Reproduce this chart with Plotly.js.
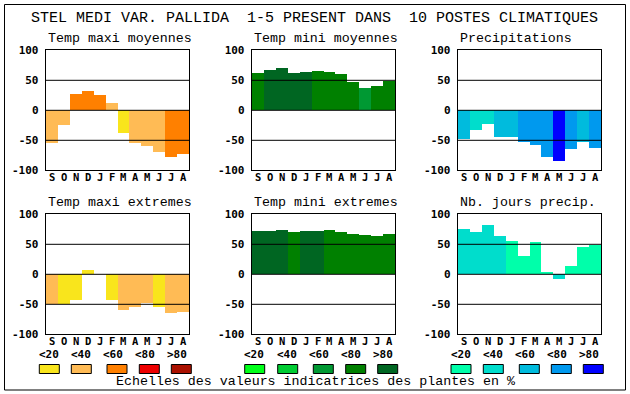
<!DOCTYPE html>
<html><head><meta charset="utf-8">
<script src="https://cdn.plot.ly/plotly-3.0.1.min.js"></script>
<style>html,body{margin:0;padding:0;background:#fff}#chart{width:630px;height:394px}</style>
</head><body><div id="chart"></div>
<script>
// ---- data ----
const months = ['S','O','N','D','J','F','M','A','M','J','J','A'];
const levelLabels = ['<20','<40','<60','<80','>80'];
const mainTitle = 'STEL MEDI VAR. PALLIDA  1-5 PRESENT DANS  10 POSTES CLIMATIQUES';
const footer = 'Echelles des valeurs indicatrices des plantes en %';
const panelTitles = ['Temp maxi moyennes','Temp mini moyennes','Precipitations',
                     'Temp maxi extremes','Temp mini extremes','Nb. jours precip.'];

const tmaxMoy      = [-55,-24,27,32,25,12,-37,-55,-60,-70,-77,-72];
const tmaxMoyLevel = [1,1,2,2,2,1,0,1,1,1,2,2];
const tminMoy      = [62,67,70,62,64,65,64,60,47,37,40,49];
const tminMoyLevel = [3,4,4,4,4,3,3,3,3,2,3,3];
const precip       = [-48,-32,-22,-44,-44,-52,-57,-77,-84,-64,-52,-62];
const precipLevel  = [2,1,1,2,2,3,3,3,4,3,2,3];
const tmaxExt      = [-49,-49,-42,7,0,-42,-60,-54,-48,-54,-64,-63];
const tmaxExtLevel = [1,0,0,0,0,0,1,1,1,0,1,1];
const tminExt      = [72,72,74,70,72,72,74,70,68,66,64,68];
const tminExtLevel = [4,4,4,3,4,4,3,3,3,3,3,3];
const nbJours      = [75,70,82,64,55,30,54,4,-7,14,45,49];
const nbJoursLevel = [1,1,1,1,0,0,0,0,1,0,0,0];

const yTicks = [-100,-50,0,50,100];

// ---- styles ----
const warm  = ['#F9E51C','#FFBB55','#FF8000','#EE0000','#AA1100'];
const green = ['#00FF1A','#00CC33','#009933','#008000','#006622'];
const blue  = ['#00FFAA','#00DDCC','#00BBDD','#0099EE','#0000FF'];

const panels = [
  {v:tmaxMoy, l:tmaxMoyLevel, pal:warm},
  {v:tminMoy, l:tminMoyLevel, pal:green},
  {v:precip,  l:precipLevel,  pal:blue},
  {v:tmaxExt, l:tmaxExtLevel, pal:warm},
  {v:tminExt, l:tminExtLevel, pal:green},
  {v:nbJours, l:nbJoursLevel, pal:blue}
];

const W = 630, H = 394;
const colX = [[45.7,189.3],[251.7,395.3],[457.7,601.3]];
const rowY = [[50.3,170.3],[214.3,334.3]];
const px = x => x / W;
const py = y => 1 - y / H;

const monoBold = 'DejaVu Sans Mono';
const thin = 'Liberation Mono';

const data = [];
const layout = {
  width: W, height: H, margin:{l:0,r:0,t:0,b:0},
  paper_bgcolor:'#fff', plot_bgcolor:'#fff', showlegend:false, bargap:0,
  shapes:[], annotations:[]
};
const xIdx = months.map((m,i)=>i);

panels.forEach((p,k)=>{
  const r = Math.floor(k/3), c = k%3;
  const sfx = k===0 ? '' : String(k+1);
  data.push({
    type:'bar', x:xIdx, y:p.v, xaxis:'x'+sfx, yaxis:'y'+sfx,
    marker:{color:p.l.map(i=>p.pal[i]), line:{width:0}},
    hoverinfo:'skip'
  });
  layout['xaxis'+sfx] = {
    domain:[px(colX[c][0]), px(colX[c][1])], anchor:'y'+sfx,
    range:[-0.5,11.5], tickvals:xIdx, showticklabels:false, ticks:'',
    showgrid:false, zeroline:false, showline:true, mirror:true,
    linecolor:'#000', linewidth:1, layer:'above traces'
  };
  layout['yaxis'+sfx] = {
    domain:[py(rowY[r][1]), py(rowY[r][0])], anchor:'x'+sfx,
    range:[-100,100], tickvals:yTicks, ticktext:yTicks.map(String), ticks:'',
    showgrid:false, zeroline:false, showline:true, mirror:true,
    linecolor:'#000', linewidth:1, layer:'above traces',
    tickfont:{family:monoBold, size:11, color:'#000', weight:700},
    ticklabelstandoff:4
  };
  [50,0,-50].forEach(g=>{
    layout.shapes.push({type:'line', xref:'x'+sfx+' domain', yref:'y'+sfx,
      x0:0, x1:1, y0:g, y1:g, line:{color:'#000', width:1}, layer:'above'});
  });
  // month labels placed along the x axis
  months.forEach((m,i)=>{
    layout.annotations.push({text:m, xref:'x'+sfx, yref:'paper', x:i, y:py(rowY[r][1]+7),
      xanchor:'center', yanchor:'middle', showarrow:false,
      font:{family:monoBold, size:10.5, color:'#000', weight:700}});
  });
  layout.annotations.push({text:panelTitles[k], xref:'paper', yref:'paper',
    x:px(colX[c][0]), y:py(rowY[r][0]-12), xanchor:'left', yanchor:'middle',
    showarrow:false, font:{family:thin, size:13.3, color:'#000'}});
});

// main title & footer
layout.annotations.push({text:mainTitle, xref:'paper', yref:'paper', x:px(314.5), y:py(18),
  xanchor:'center', yanchor:'middle', showarrow:false, font:{family:thin, size:15, color:'#000'}});
layout.annotations.push({text:footer, xref:'paper', yref:'paper', x:px(315), y:py(381.5),
  xanchor:'center', yanchor:'middle', showarrow:false, font:{family:thin, size:13.3, color:'#000'}});

// frame
layout.shapes.push({type:'rect', xref:'paper', yref:'paper', x0:px(4.5), x1:px(625.5), y0:py(390), y1:py(4.5),
  line:{color:'#000', width:1}, fillcolor:'rgba(0,0,0,0)', layer:'above'});

// scale legends
const legendGroups = [
  {pal:warm,  labels:[49,81,113,145,177],   sw:[39.3,71.3,107,139.3,171.3]},
  {pal:green, labels:[254,286.7,318.8,351,383], sw:[244.7,277.7,313.3,345.7,377.7]},
  {pal:blue,  labels:[461,493,525,557,589], sw:[451,483.3,519.3,551.3,583.3]}
];
legendGroups.forEach(g=>{
  g.pal.forEach((col,i)=>{
    layout.shapes.push({type:'rect', xref:'paper', yref:'paper',
      x0:px(g.sw[i]), x1:px(g.sw[i]+20), y0:py(373.5), y1:py(364.5),
      fillcolor:col, line:{color:'#000', width:1}, layer:'above'});
    layout.annotations.push({text:levelLabels[i], xref:'paper', yref:'paper',
      x:px(g.labels[i]), y:py(354), xanchor:'center', yanchor:'middle', showarrow:false,
      font:{family:monoBold, size:11, color:'#000', weight:700}});
  });
});

Plotly.newPlot('chart', data, layout, {staticPlot:true, displayModeBar:false});
</script>
</body></html>
